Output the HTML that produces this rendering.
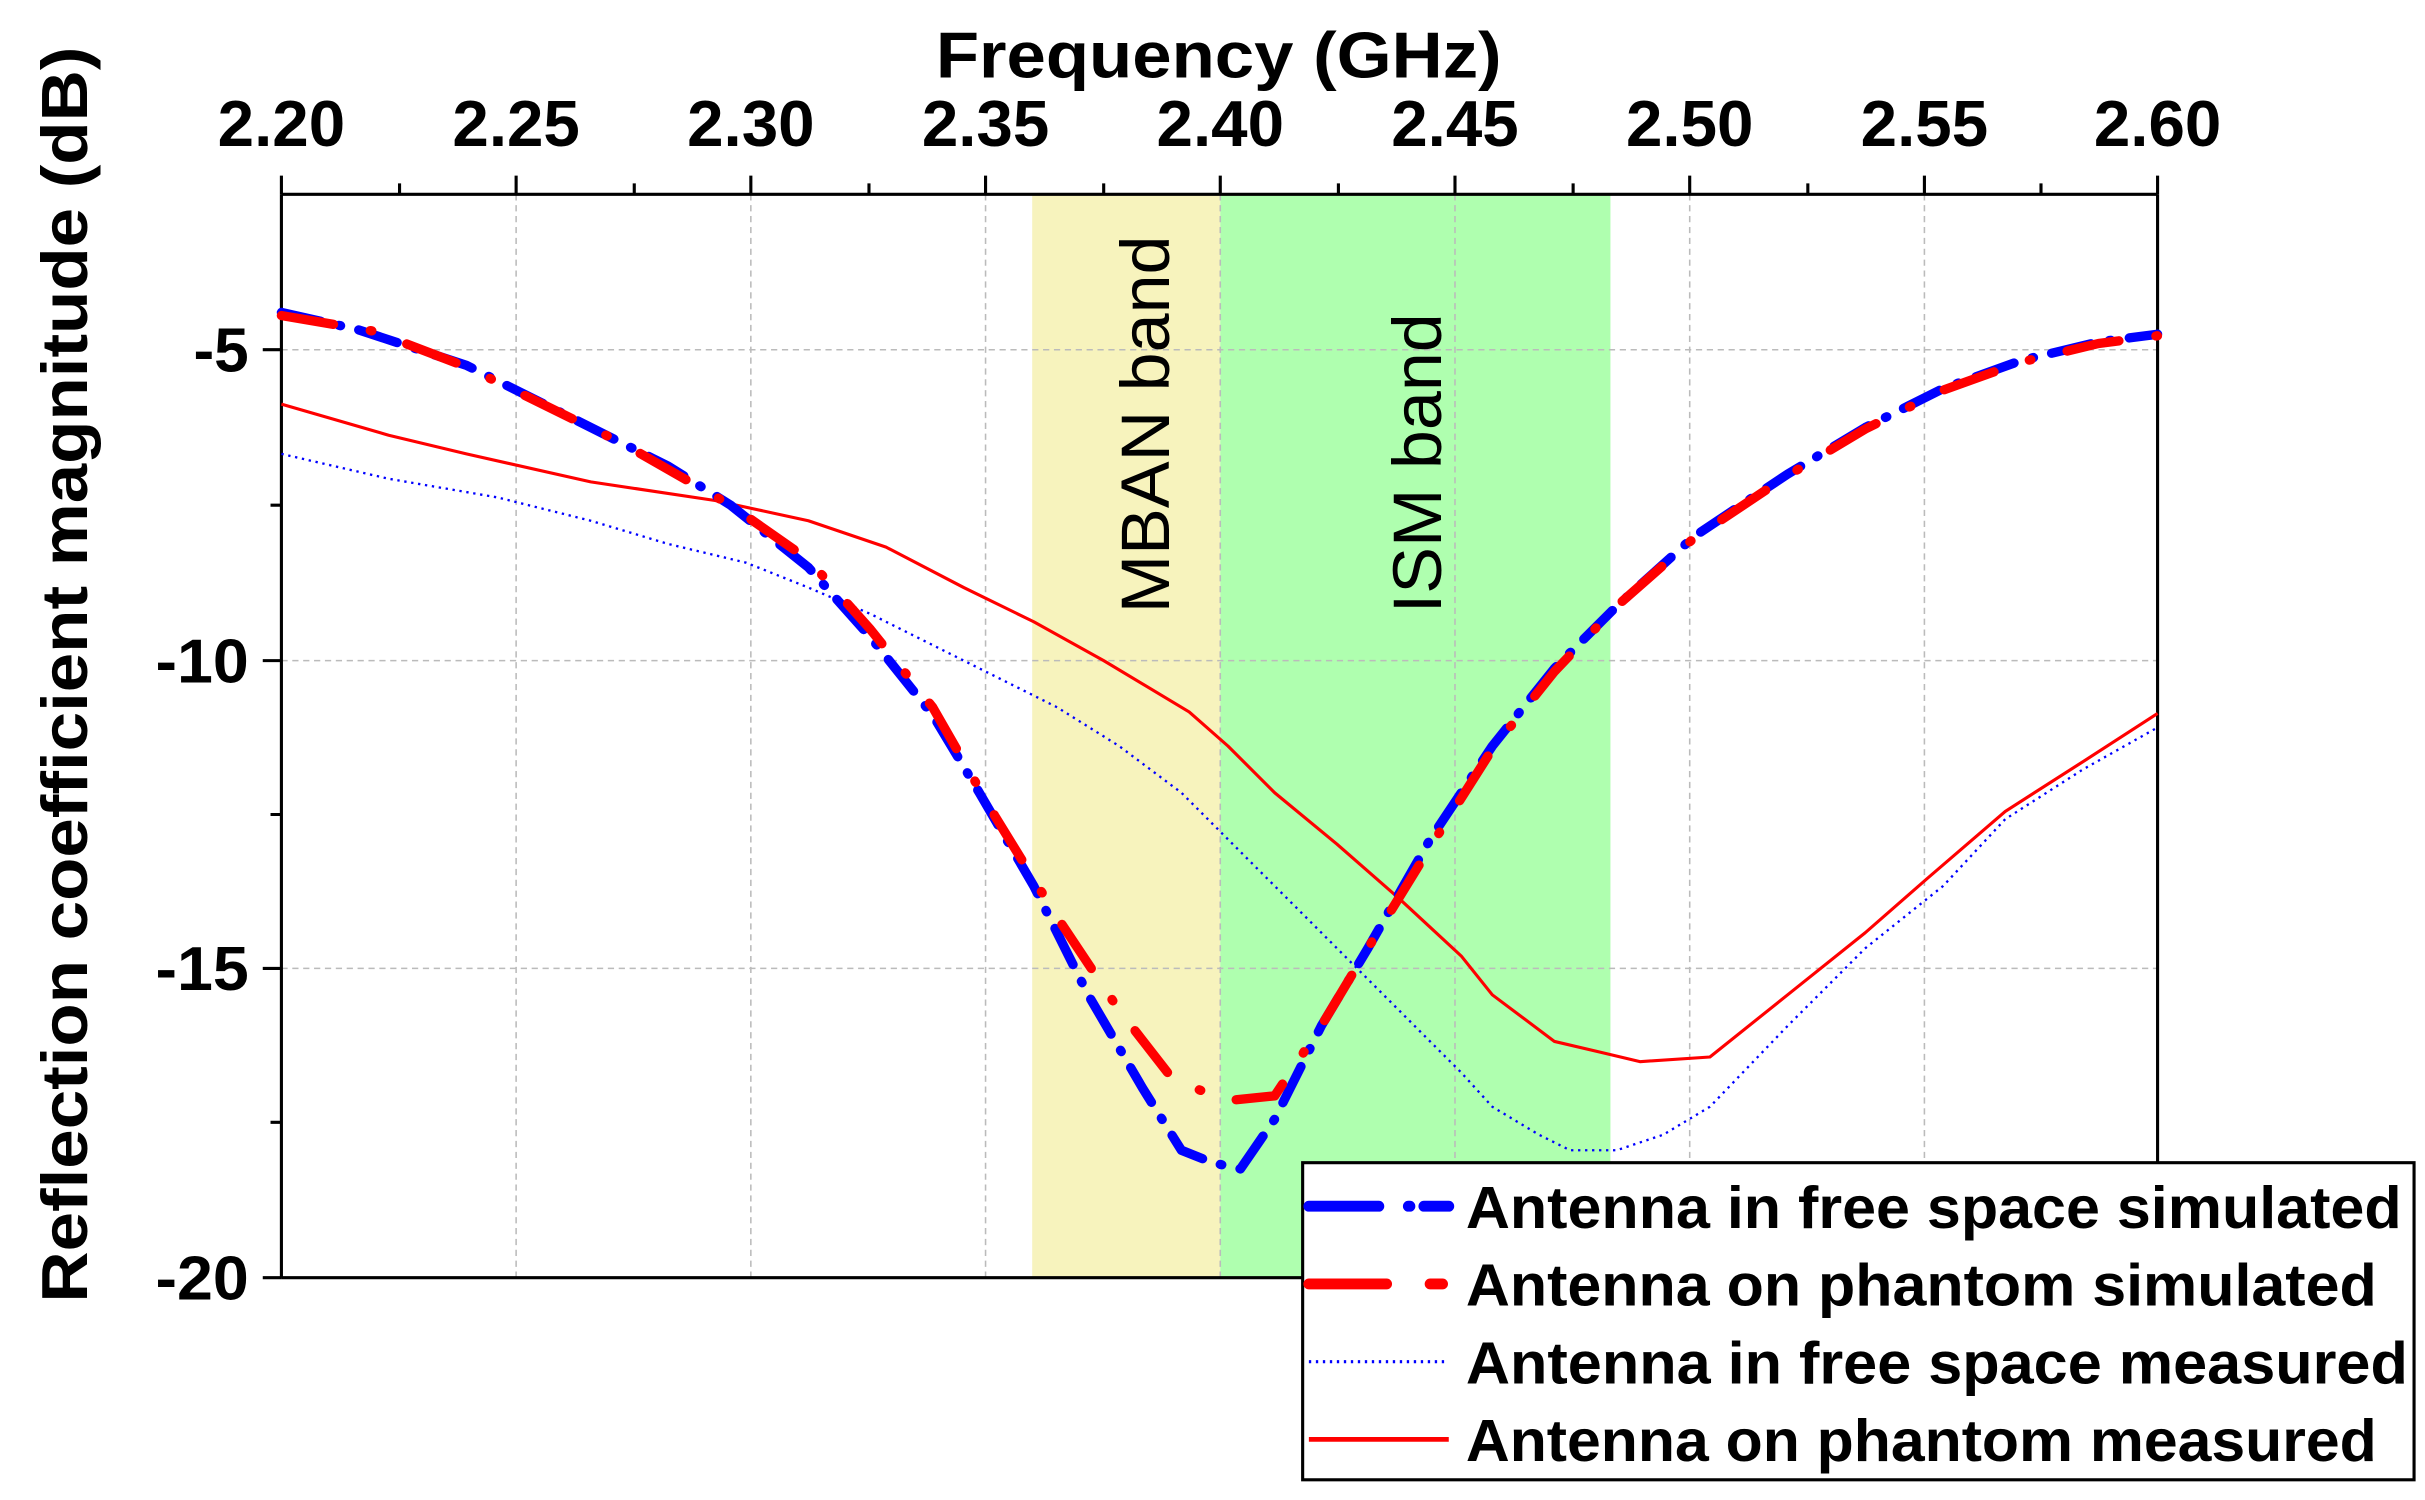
<!DOCTYPE html>
<html><head><meta charset="utf-8"><style>
html,body{margin:0;padding:0;background:#fff;}
svg{display:block;}
text{font-family:"Liberation Sans",Arial,sans-serif;font-weight:bold;fill:#000;}
</style></head><body>
<svg width="2425" height="1500" viewBox="0 0 1560 965" xmlns="http://www.w3.org/2000/svg">
<rect width="1560" height="965" fill="#fff"/>
<rect x="664" y="125" width="121" height="697" fill="#f7f3bd"/>
<rect x="785" y="125" width="251" height="697" fill="#afffaf"/>
<g stroke="#bbb" stroke-width="1" stroke-dasharray="4,3">
<line x1="332" y1="125" x2="332" y2="822"/><line x1="483" y1="125" x2="483" y2="822"/>
<line x1="634" y1="125" x2="634" y2="822"/><line x1="785" y1="125" x2="785" y2="822"/>
<line x1="936" y1="125" x2="936" y2="822"/><line x1="1087" y1="125" x2="1087" y2="822"/>
<line x1="1238" y1="125" x2="1238" y2="822"/>
<line x1="181" y1="225" x2="1388" y2="225"/><line x1="181" y1="425" x2="1388" y2="425"/>
<line x1="181" y1="623" x2="1388" y2="623"/>
</g>
<g stroke="#000" stroke-width="2">
<line x1="181" y1="125" x2="181" y2="822"/><line x1="1388" y1="125" x2="1388" y2="822"/>
<line x1="181" y1="125" x2="1388" y2="125"/><line x1="181" y1="822" x2="1388" y2="822"/>
<path d="M181 125v-12M332 125v-12M483 125v-12M634 125v-12M785 125v-12M936 125v-12M1087 125v-12M1238 125v-12M1388 125v-12
M257 125v-7M408 125v-7M559 125v-7M710 125v-7M861 125v-7M1012 125v-7M1163 125v-7M1313 125v-7
M181 225h-12M181 425h-12M181 623h-12M181 822h-12M181 325h-7M181 524h-7M181 722h-7"/>
</g>
<g font-size="42" text-anchor="middle">
<text x="181" y="94" textLength="82" lengthAdjust="spacingAndGlyphs">2.20</text><text x="332" y="94" textLength="82" lengthAdjust="spacingAndGlyphs">2.25</text><text x="483" y="94" textLength="82" lengthAdjust="spacingAndGlyphs">2.30</text>
<text x="634" y="94" textLength="82" lengthAdjust="spacingAndGlyphs">2.35</text><text x="785" y="94" textLength="82" lengthAdjust="spacingAndGlyphs">2.40</text><text x="936" y="94" textLength="82" lengthAdjust="spacingAndGlyphs">2.45</text>
<text x="1087" y="94" textLength="82" lengthAdjust="spacingAndGlyphs">2.50</text><text x="1238" y="94" textLength="82" lengthAdjust="spacingAndGlyphs">2.55</text><text x="1388" y="94" textLength="82" lengthAdjust="spacingAndGlyphs">2.60</text>
</g>
<g font-size="40" text-anchor="end">
<text x="160" y="239">-5</text><text x="160" y="439" textLength="60" lengthAdjust="spacingAndGlyphs">-10</text><text x="160" y="637" textLength="60" lengthAdjust="spacingAndGlyphs">-15</text><text x="160" y="836" textLength="60" lengthAdjust="spacingAndGlyphs">-20</text>
</g>
<text x="784" y="50" font-size="42" text-anchor="middle" textLength="364" lengthAdjust="spacingAndGlyphs">Frequency (GHz)</text>
<text transform="translate(56,434) rotate(-90)" font-size="42" text-anchor="middle" textLength="808" lengthAdjust="spacingAndGlyphs">Reflection coefficient magnitude (dB)</text>
<text transform="translate(752,273) rotate(-90)" font-size="44" style="font-weight:normal" text-anchor="middle" textLength="243" lengthAdjust="spacingAndGlyphs">MBAN band</text>
<text transform="translate(927,298) rotate(-90)" font-size="44" style="font-weight:normal" text-anchor="middle" textLength="193" lengthAdjust="spacingAndGlyphs">ISM band</text>
<g fill="none" stroke-linejoin="round">
<polyline stroke="#00f" stroke-width="1.5" stroke-dasharray="1.5,3" points="181,292 250,308 320,320 380,335 430,350 480,362 520,378 560,395 600,415 640,435 680,455 720,480 760,510 790,540 820,570 860,610 900,650 940,690 960,712 990,730 1010,740 1040,740 1070,730 1100,712 1150,660 1200,610 1250,570 1290,527 1340,495 1388,468"/>
<polyline stroke="#f00" stroke-width="2" points="181,260 250,280 300,292 380,310 460,322 520,335 570,352 620,378 665,400 710,425 765,458 790,480 820,510 860,543 900,578 940,615 960,640 1000,670 1030,677 1055,683 1100,680 1150,640 1200,600 1240,565 1290,522 1340,490 1388,459"/>
<polyline stroke="#00f" stroke-width="6" stroke-linecap="round" stroke-dasharray="26,12,1,12" points="181,201 230,212 300,235 370,270 430,300 470,325 520,365 560,410 600,460 630,510 665,570 700,640 735,700 760,740 780,748 798,752 820,720 850,660 880,610 920,540 960,480 1000,430 1040,390 1090,345 1150,305 1200,275 1250,250 1300,232 1350,220 1388,215"/>
<polyline stroke="#f00" stroke-width="6" stroke-linecap="round" stroke-dasharray="34,24,1,24" points="181,203 240,213 300,236 400,285 470,325 520,360 560,405 600,455 640,525 680,590 720,650 755,695 790,708 820,705 850,660 880,610 920,545 960,482 1000,432 1040,390 1090,346 1150,306 1200,276 1250,251 1300,233 1350,221 1388,216"/>
</g>
<rect x="838" y="748" width="715" height="204" fill="#fff" stroke="#000" stroke-width="2"/>
<g fill="none" stroke-linecap="round">
<path d="M842 776h45M906 776h1M916 776h16" stroke="#00f" stroke-width="7"/>
<path d="M842 826h50M920 826h8" stroke="#f00" stroke-width="7"/>
<path d="M842 876h90" stroke="#00f" stroke-width="2" stroke-dasharray="1.5,3" stroke-linecap="butt"/>
<path d="M842 926h90" stroke="#f00" stroke-width="3" stroke-linecap="butt"/>
</g>
<g font-size="38">
<text x="943" y="790" textLength="602" lengthAdjust="spacingAndGlyphs">Antenna in free space simulated</text>
<text x="943" y="840" textLength="586" lengthAdjust="spacingAndGlyphs">Antenna on phantom simulated</text>
<text x="943" y="890" textLength="606" lengthAdjust="spacingAndGlyphs">Antenna in free space measured</text>
<text x="943" y="940" textLength="586" lengthAdjust="spacingAndGlyphs">Antenna on phantom measured</text>
</g>
</svg>
</body></html>
